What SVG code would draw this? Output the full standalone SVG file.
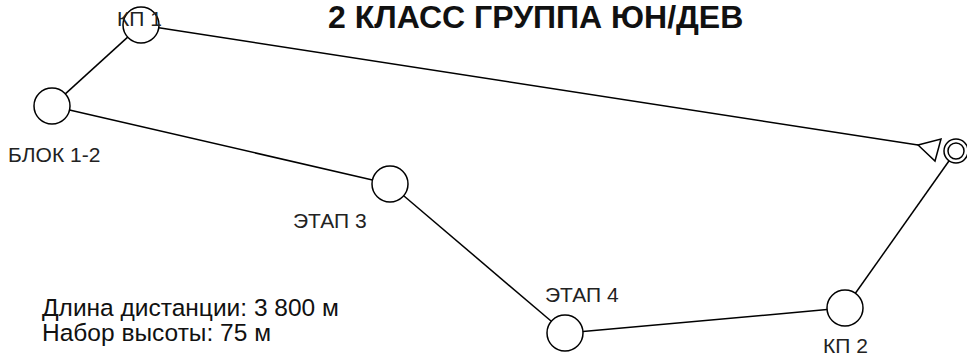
<svg xmlns="http://www.w3.org/2000/svg" width="967" height="361" viewBox="0 0 967 361">
<style>
.c{fill:none;stroke:#000;stroke-width:1.5}
.l{stroke:#000;stroke-width:1.5;fill:none}
.t{font-family:"Liberation Sans",Arial,sans-serif;font-size:21px;fill:#222}
.b{font-family:"Liberation Sans",Arial,sans-serif;font-size:24.5px;fill:#111}
.h{font-family:"Liberation Sans",Arial,sans-serif;font-size:32px;font-weight:bold;fill:#111}
</style>
<rect width="967" height="361" fill="#fff"/>
<g id="connectors">
<line class="l" x1="158.8" y1="27.7" x2="918" y2="145"/>
<line class="l" x1="127.7" y1="37.1" x2="65.3" y2="93.9"/>
<line class="l" x1="69.5" y1="110" x2="372.5" y2="180"/>
<line class="l" x1="403.7" y1="195.7" x2="551.3" y2="321.3"/>
<line class="l" x1="582.9" y1="331.4" x2="827.1" y2="309.6"/>
<line class="l" x1="855.4" y1="293.3" x2="949.1" y2="160.8"/>
</g>
<g id="start"><polygon class="c" points="918,145 941,139 935,161"/></g>
<g id="finish"><circle class="c" cx="956" cy="151" r="12"/><circle class="c" cx="956" cy="151" r="8"/></g>
<g id="kp1"><circle class="c" cx="141" cy="25" r="18"/><text class="t" x="117" y="26">КП 1</text></g>
<g id="blok"><circle class="c" cx="52" cy="106" r="18"/><text class="t" x="8" y="162">БЛОК 1-2</text></g>
<g id="etap3"><circle class="c" cx="390" cy="184" r="18"/><text class="t" x="293" y="228">ЭТАП 3</text></g>
<g id="etap4"><circle class="c" cx="565" cy="333" r="18"/><text class="t" x="545" y="302">ЭТАП 4</text></g>
<g id="kp2"><circle class="c" cx="845" cy="308" r="18"/><text class="t" x="823" y="353">КП 2</text></g>
<text class="h" x="328" y="28">2 КЛАСС ГРУППА ЮН/ДЕВ</text>
<text class="b" x="42" y="316">Длина дистанции: 3 800 м</text>
<text class="b" x="42" y="341">Набор высоты: 75 м</text>
</svg>
